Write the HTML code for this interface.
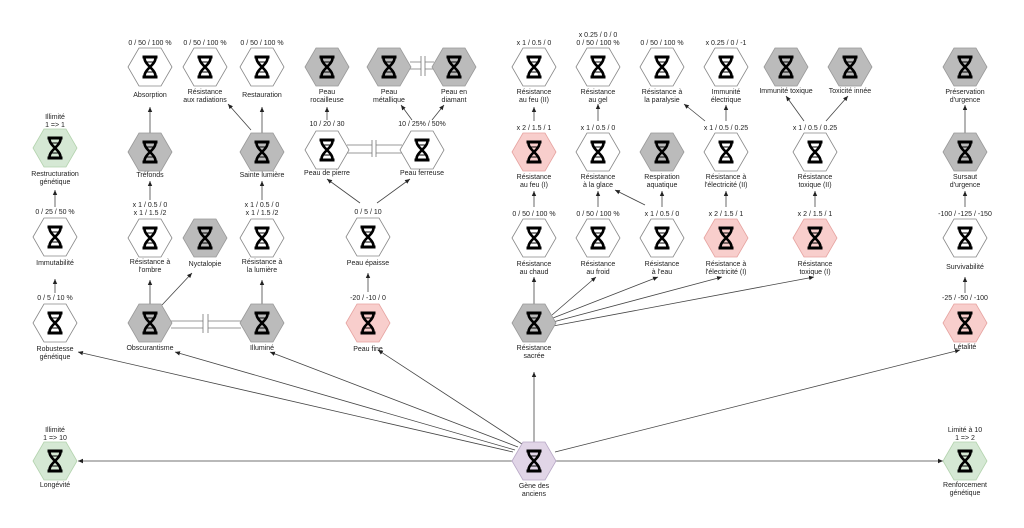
<!DOCTYPE html>
<html><head><meta charset="utf-8"><style>
html,body{margin:0;padding:0;background:#fff;}
svg{display:block;}
text{font-family:"Liberation Sans",sans-serif;font-size:7px;fill:#222;text-anchor:middle;}
.e{stroke:#444;stroke-width:0.8;fill:none;marker-end:url(#a);}
.d{stroke:#777;stroke-width:0.8;fill:none;}
</style></head><body>
<svg width="1024" height="528" viewBox="0 0 1024 528" xmlns="http://www.w3.org/2000/svg">
<defs>
<marker id="a" markerWidth="6" markerHeight="6" refX="5" refY="3" orient="auto" markerUnits="userSpaceOnUse"><path d="M0,0.8 L5,3 L0,5.2 Z" fill="#222"/></marker>
<g id="ic"><rect x="-7.5" y="-11.5" width="15" height="3" fill="#000"/><rect x="-7.5" y="8.5" width="15" height="3" fill="#000"/>
<path d="M-5.5,-9 C-5.5,-2 5.5,2 5.5,9 M5.5,-9 C5.5,-2 -5.5,2 -5.5,9" stroke="#000" stroke-width="2.6" fill="none"/>
<path d="M-3,-5 H3 M-3,5 H3" stroke="#000" stroke-width="1"/></g>
<polygon id="hx" points="-22,0 -11,-19 11,-19 22,0 11,19 -11,19"/>
</defs>

<!-- edges -->
<path class="e" d="M55,293 V279"/>
<path class="e" d="M55,207 V190"/>
<path class="e" d="M150,304 V280"/>
<path class="e" d="M162,305 L192,273"/>
<path class="e" d="M150,200 V181"/>
<path class="e" d="M150,133 V107"/>
<path class="e" d="M262,304 V280"/>
<path class="e" d="M262,200 V181"/>
<path class="e" d="M262,133 V107"/>
<path class="e" d="M251,130 L228,104"/>
<path class="e" d="M368,292 V273"/>
<path class="e" d="M360,203 L327,179"/>
<path class="e" d="M377,203 L410,179"/>
<path class="e" d="M327,120 V107"/>
<path class="e" d="M412,120 L401,105"/>
<path class="e" d="M432,120 L444,105"/>
<path class="e" d="M534,304 V277"/>
<path class="e" d="M552,315 L596,277"/>
<path class="e" d="M553,318 L658,277"/>
<path class="e" d="M553,322 L722,277"/>
<path class="e" d="M553,326 L814,277"/>
<path class="e" d="M534,207 V191"/>
<path class="e" d="M534,121 V107"/>
<path class="e" d="M598,207 V191"/>
<path class="e" d="M598,121 V104"/>
<path class="e" d="M645,205 L615,190"/>
<path class="e" d="M662,207 V191"/>
<path class="e" d="M726,207 V191"/>
<path class="e" d="M726,121 V105"/>
<path class="e" d="M705,121 L684,104"/>
<path class="e" d="M815,207 V191"/>
<path class="e" d="M804,121 L786,96"/>
<path class="e" d="M826,121 L848,96"/>
<path class="e" d="M965,293 V277"/>
<path class="e" d="M965,207 V191"/>
<path class="e" d="M965,133 V105"/>
<path class="e" d="M534,442 V372"/>
<path class="e" d="M513,452 L78,352"/>
<path class="e" d="M515,450 L175,352"/>
<path class="e" d="M518,447 L270,352"/>
<path class="e" d="M522,444 L378,350"/>
<path class="e" d="M555,452 L960,350"/>
<path class="e" d="M512,461 H78"/>
<path class="e" d="M556,461 H943"/>

<!-- double lines -->
<path class="d" d="M171,321 H203 M171,328 H203 M203,314 V333 M208,314 V333 M208,321 H241 M208,328 H241"/>
<path class="d" d="M347,145 H372 M347,153 H372 M372,140 V157 M376,140 V157 M376,145 H402 M376,153 H402"/>
<path class="d" d="M410,62 H421 M410,69 H421 M421,56 V76 M425,56 V76 M425,62 H434 M425,69 H434"/>

<!-- nodes -->
<g fill="#fff" stroke="#888" stroke-width="0.8">
<use href="#hx" x="150" y="67"/><use href="#hx" x="205" y="67"/><use href="#hx" x="262" y="67"/>
<use href="#hx" x="534" y="67"/><use href="#hx" x="598" y="67"/><use href="#hx" x="662" y="67"/><use href="#hx" x="726" y="67"/>
<use href="#hx" x="327" y="150"/><use href="#hx" x="422" y="150"/><use href="#hx" x="598" y="152"/><use href="#hx" x="726" y="152"/><use href="#hx" x="815" y="152"/>
<use href="#hx" x="55" y="237"/><use href="#hx" x="150" y="238"/><use href="#hx" x="262" y="238"/><use href="#hx" x="368" y="237"/>
<use href="#hx" x="534" y="238"/><use href="#hx" x="598" y="238"/><use href="#hx" x="662" y="238"/><use href="#hx" x="965" y="238"/>
<use href="#hx" x="55" y="323"/>
</g>
<g fill="#bbb" stroke="#999" stroke-width="0.8">
<use href="#hx" x="327" y="67"/><use href="#hx" x="389" y="67"/><use href="#hx" x="454" y="67"/>
<use href="#hx" x="786" y="67"/><use href="#hx" x="850" y="67"/><use href="#hx" x="965" y="67"/>
<use href="#hx" x="150" y="152"/><use href="#hx" x="262" y="152"/><use href="#hx" x="662" y="152"/><use href="#hx" x="965" y="152"/>
<use href="#hx" x="205" y="238"/>
<use href="#hx" x="150" y="323"/><use href="#hx" x="262" y="323"/><use href="#hx" x="534" y="323"/>
</g>
<g fill="#f8cecc" stroke="#e6a3a0" stroke-width="0.8">
<use href="#hx" x="534" y="152"/><use href="#hx" x="726" y="238"/><use href="#hx" x="815" y="238"/>
<use href="#hx" x="368" y="323"/><use href="#hx" x="965" y="323"/>
</g>
<g fill="#d5e8d4" stroke="#b3d3ad" stroke-width="0.8">
<use href="#hx" x="55" y="148"/><use href="#hx" x="55" y="461"/><use href="#hx" x="965" y="461"/>
</g>
<use href="#hx" x="534" y="461" fill="#e1d5e7" stroke="#b8a8c6" stroke-width="0.8"/>

<g>
<use href="#ic" x="150" y="67"/><use href="#ic" x="205" y="67"/><use href="#ic" x="262" y="67"/>
<use href="#ic" x="534" y="67"/><use href="#ic" x="598" y="67"/><use href="#ic" x="662" y="67"/><use href="#ic" x="726" y="67"/>
<use href="#ic" x="327" y="150"/><use href="#ic" x="422" y="150"/><use href="#ic" x="598" y="152"/><use href="#ic" x="726" y="152"/><use href="#ic" x="815" y="152"/>
<use href="#ic" x="55" y="237"/><use href="#ic" x="150" y="238"/><use href="#ic" x="262" y="238"/><use href="#ic" x="368" y="237"/>
<use href="#ic" x="534" y="238"/><use href="#ic" x="598" y="238"/><use href="#ic" x="662" y="238"/><use href="#ic" x="965" y="238"/>
<use href="#ic" x="55" y="323"/>
<use href="#ic" x="327" y="67"/><use href="#ic" x="389" y="67"/><use href="#ic" x="454" y="67"/>
<use href="#ic" x="786" y="67"/><use href="#ic" x="850" y="67"/><use href="#ic" x="965" y="67"/>
<use href="#ic" x="150" y="152"/><use href="#ic" x="262" y="152"/><use href="#ic" x="662" y="152"/><use href="#ic" x="965" y="152"/>
<use href="#ic" x="205" y="238"/>
<use href="#ic" x="150" y="323"/><use href="#ic" x="262" y="323"/><use href="#ic" x="534" y="323"/>
<use href="#ic" x="534" y="152"/><use href="#ic" x="726" y="238"/><use href="#ic" x="815" y="238"/>
<use href="#ic" x="368" y="323"/><use href="#ic" x="965" y="323"/>
<use href="#ic" x="55" y="148"/><use href="#ic" x="55" y="461"/><use href="#ic" x="965" y="461"/>
<use href="#ic" x="534" y="461"/>
</g>

<!-- labels -->
<text x="150" y="45">0 / 50 / 100 %</text><text x="150" y="97">Absorption</text>
<text x="205" y="45">0 / 50 / 100 %</text><text x="205" y="94">Résistance</text><text x="205" y="102">aux radiations</text>
<text x="262" y="45">0 / 50 / 100 %</text><text x="262" y="97">Restauration</text>
<text x="327" y="94">Peau</text><text x="327" y="102">rocailleuse</text>
<text x="389" y="94">Peau</text><text x="389" y="102">métallique</text>
<text x="454" y="94">Peau en</text><text x="454" y="102">diamant</text>
<text x="534" y="45">x 1 / 0.5 / 0</text><text x="534" y="94">Résistance</text><text x="534" y="102">au feu (II)</text>
<text x="598" y="37">x 0.25 / 0 / 0</text><text x="598" y="45">0 / 50 / 100 %</text><text x="598" y="94">Résistance</text><text x="598" y="102">au gel</text>
<text x="662" y="45">0 / 50 / 100 %</text><text x="662" y="94">Résistance à</text><text x="662" y="102">la paralysie</text>
<text x="726" y="45">x 0.25 / 0 / -1</text><text x="726" y="94">Immunité</text><text x="726" y="102">électrique</text>
<text x="786" y="93">Immunité toxique</text>
<text x="850" y="93">Toxicité innée</text>
<text x="965" y="94">Préservation</text><text x="965" y="102">d'urgence</text>

<text x="55" y="119">Illimité</text><text x="55" y="127">1 =&gt; 1</text><text x="55" y="176">Restructuration</text><text x="55" y="184">génétique</text>
<text x="150" y="177">Tréfonds</text>
<text x="262" y="177">Sainte lumière</text>
<text x="327" y="126">10 / 20 / 30</text><text x="327" y="175">Peau de pierre</text>
<text x="422" y="126">10 / 25% / 50%</text><text x="422" y="175">Peau ferreuse</text>
<text x="534" y="130">x 2 / 1.5 / 1</text><text x="534" y="179">Résistance</text><text x="534" y="187">au feu (I)</text>
<text x="598" y="130">x 1 / 0.5 / 0</text><text x="598" y="179">Résistance</text><text x="598" y="187">à la glace</text>
<text x="662" y="179">Respiration</text><text x="662" y="187">aquatique</text>
<text x="726" y="130">x 1 / 0.5 / 0.25</text><text x="726" y="179">Résistance à</text><text x="726" y="187">l'électricité (II)</text>
<text x="815" y="130">x 1 / 0.5 / 0.25</text><text x="815" y="179">Résistance</text><text x="815" y="187">toxique (II)</text>
<text x="965" y="179">Sursaut</text><text x="965" y="187">d'urgence</text>

<text x="55" y="214">0 / 25 / 50 %</text><text x="55" y="265">Immutabilité</text>
<text x="150" y="207">x 1 / 0.5 / 0</text><text x="150" y="215">x 1 / 1.5 /2</text><text x="150" y="264">Résistance à</text><text x="150" y="272">l'ombre</text>
<text x="205" y="266">Nyctalopie</text>
<text x="262" y="207">x 1 / 0.5 / 0</text><text x="262" y="215">x 1 / 1.5 /2</text><text x="262" y="264">Résistance à</text><text x="262" y="272">la lumière</text>
<text x="368" y="214">0 / 5 / 10</text><text x="368" y="265">Peau épaisse</text>
<text x="534" y="216">0 / 50 / 100 %</text><text x="534" y="266">Résistance</text><text x="534" y="274">au chaud</text>
<text x="598" y="216">0 / 50 / 100 %</text><text x="598" y="266">Résistance</text><text x="598" y="274">au froid</text>
<text x="662" y="216">x 1 / 0.5 / 0</text><text x="662" y="266">Résistance</text><text x="662" y="274">à l'eau</text>
<text x="726" y="216">x 2 / 1.5 / 1</text><text x="726" y="266">Résistance à</text><text x="726" y="274">l'électricité (I)</text>
<text x="815" y="216">x 2 / 1.5 / 1</text><text x="815" y="266">Résistance</text><text x="815" y="274">toxique (I)</text>
<text x="965" y="216">-100 / -125 / -150</text><text x="965" y="269">Survivabilité</text>

<text x="55" y="300">0 / 5 / 10 %</text><text x="55" y="351">Robustesse</text><text x="55" y="359">génétique</text>
<text x="150" y="350">Obscurantisme</text>
<text x="262" y="350">Illuminé</text>
<text x="368" y="300">-20 / -10 / 0</text><text x="368" y="351">Peau fine</text>
<text x="534" y="350">Résistance</text><text x="534" y="358">sacrée</text>
<text x="965" y="300">-25 / -50 / -100</text><text x="965" y="349">Létalité</text>

<text x="55" y="432">Illimité</text><text x="55" y="440">1 =&gt; 10</text><text x="55" y="487">Longévité</text>
<text x="534" y="488">Gène des</text><text x="534" y="496">anciens</text>
<text x="965" y="432">Limité à 10</text><text x="965" y="440">1 =&gt; 2</text><text x="965" y="487">Renforcement</text><text x="965" y="495">génétique</text>
</svg>
</body></html>
